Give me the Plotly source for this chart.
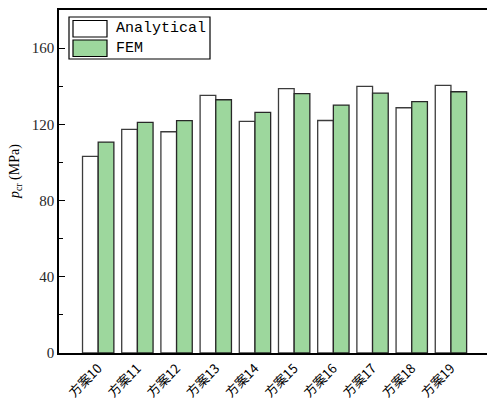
import plotly.graph_objects as go

# Scheme labels and critical pressure values (MPa)
schemes = ["方案10", "方案11", "方案12", "方案13", "方案14",
           "方案15", "方案16", "方案17", "方案18", "方案19"]
analytical = [103.2, 117.4, 116.1, 135.2, 121.6, 138.7, 122.0, 139.9, 128.7, 140.4]
fem = [110.7, 121.0, 121.9, 132.9, 126.3, 136.1, 130.1, 136.4, 131.9, 137.1]

y_ticks = [0, 40, 80, 120, 160]
series_names = ["Analytical", "FEM"]
y_title = "<i>p</i><sub>cr</sub> (MPa)"

GREEN = "rgb(157,215,157)"
SERIF = "Liberation Serif, Times New Roman, serif"
MONO = "Liberation Mono, Courier New, monospace"
W, H = 487, 403
ML, MR, MT, MB = 59, 0, 10, 50

fig = go.Figure()
fig.add_trace(go.Bar(x=schemes, y=analytical, name=series_names[0],
                     marker=dict(color="white", line=dict(color="rgb(60,60,60)", width=1.3)),
                     showlegend=False))
fig.add_trace(go.Bar(x=schemes, y=fem, name=series_names[1],
                     marker=dict(color=GREEN, line=dict(color="rgb(40,40,40)", width=1.3)),
                     showlegend=False))

# pixel -> paper coordinate helpers for the hand-placed decorations
def px_x(p):
    return (p - ML) / (W - ML - MR)

def px_y(p):
    return 1 - (p - MT) / (H - MT - MB)

# Legend box with wide swatches
fig.add_shape(type="rect", xref="paper", yref="paper",
              x0=px_x(69), x1=px_x(210), y0=px_y(59), y1=px_y(17),
              line=dict(color="black", width=1.2), fillcolor="white", layer="above")
for i, (name, fill) in enumerate(zip(series_names, ["white", GREEN])):
    top = 20.5 + i * 19.5
    fig.add_shape(type="rect", xref="paper", yref="paper",
                  x0=px_x(73), x1=px_x(107), y0=px_y(top + 16.5), y1=px_y(top),
                  line=dict(color="black", width=1.2), fillcolor=fill, layer="above")
    fig.add_annotation(xref="paper", yref="paper", x=px_x(114), y=px_y(top + 8.5),
                       text=name, showarrow=False, xanchor="left", yanchor="middle",
                       font=dict(family=MONO, size=15, color="black"))

# Y-axis title
fig.add_annotation(xref="paper", yref="paper", x=px_x(16), y=px_y(172),
                   text=y_title, textangle=-90, showarrow=False,
                   xanchor="center", yanchor="middle",
                   font=dict(family=SERIF, size=14, color="black"))

fig.update_layout(
    width=W, height=H,
    margin=dict(l=ML, r=MR, t=MT, b=MB, autoexpand=False),
    paper_bgcolor="white", plot_bgcolor="white",
    barmode="group", bargap=0.2, bargroupgap=0,
    font=dict(family=SERIF, size=15, color="black"),
)
fig.update_xaxes(
    range=[-1.0, 9.92], showline=True, linecolor="black", linewidth=1.5,
    mirror=True, ticks="", tickangle=-45, showgrid=False, ticklabelstandoff=1,
    automargin=False,
    tickfont=dict(family="Noto Sans CJK SC", size=13, color="black"),
)
fig.update_yaxes(
    range=[0, 180], tickvals=y_ticks, showline=True, linecolor="black", linewidth=1.5,
    ticks="inside", ticklen=6, tickwidth=1.2, tickcolor="black",
    minor=dict(dtick=20, ticks="inside", ticklen=4, tickwidth=1.2, tickcolor="black"),
    showgrid=False, zeroline=False, automargin=False,
    tickfont=dict(family=SERIF, size=15, color="rgb(40,40,40)"),
)

fig.write_html("out.html")
